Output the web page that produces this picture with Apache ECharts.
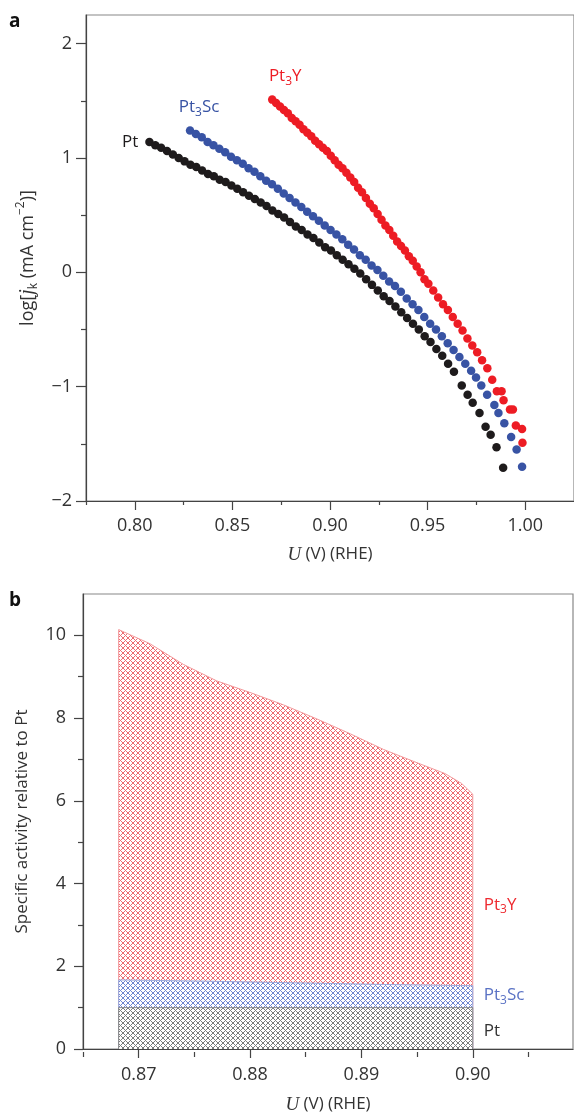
<!DOCTYPE html>
<html><head><meta charset="utf-8">
<script src="https://cdn.jsdelivr.net/npm/echarts@6/dist/echarts.min.js"></script>
<style>html,body{margin:0;padding:0;background:#fff}#c{width:574px;height:1115px}</style>
</head><body><div id="c"></div>
<script>
// ---- Panel a: log(jk) vs U ----
const ptU = [0.8075,0.8105,0.8135,0.8165,0.8195,0.8225,0.8255,0.8285,0.8315,0.8345,0.8375,0.8405,0.8435,0.8465,0.8495,0.8525,0.8555,0.8585,0.8615,0.8645,0.8675,0.8705,0.8735,0.8765,0.8795,0.8825,0.8855,0.8885,0.8915,0.8945,0.8975,0.9005,0.9035,0.9065,0.9095,0.9125,0.9155,0.9185,0.9215,0.9245,0.9275,0.9305,0.9335,0.9365,0.9395,0.9425,0.9455,0.9485,0.9515,0.9545,0.9575,0.9605,0.9635,0.9675,0.9705,0.9731,0.9766,0.9797,0.9823,0.9853,0.9887];
const ptLogJ = [1.14,1.11,1.09,1.06,1.03,1.00,0.97,0.94,0.92,0.89,0.86,0.84,0.81,0.79,0.76,0.73,0.70,0.67,0.64,0.61,0.58,0.54,0.51,0.48,0.44,0.40,0.37,0.33,0.30,0.26,0.22,0.19,0.15,0.11,0.07,0.03,-0.01,-0.06,-0.11,-0.16,-0.21,-0.25,-0.30,-0.35,-0.40,-0.45,-0.50,-0.56,-0.61,-0.67,-0.73,-0.80,-0.87,-0.99,-1.07,-1.14,-1.23,-1.35,-1.42,-1.53,-1.71];
const scU = [0.8283,0.8313,0.8343,0.8373,0.8403,0.8433,0.8463,0.8493,0.8523,0.8553,0.8583,0.8613,0.8643,0.8673,0.8703,0.8733,0.8763,0.8793,0.8823,0.8853,0.8883,0.8913,0.8943,0.8973,0.9003,0.9033,0.9063,0.9093,0.9123,0.9153,0.9183,0.9213,0.9243,0.9273,0.9303,0.9333,0.9363,0.9393,0.9423,0.9453,0.9483,0.9513,0.9543,0.9573,0.9603,0.9633,0.9663,0.9693,0.9723,0.9748,0.9775,0.9805,0.9842,0.9863,0.9893,0.9928,0.9956,0.9984];
const scLogJ = [1.24,1.21,1.18,1.14,1.11,1.08,1.05,1.01,0.98,0.95,0.91,0.88,0.84,0.80,0.77,0.73,0.69,0.65,0.61,0.57,0.53,0.49,0.45,0.41,0.37,0.33,0.29,0.24,0.20,0.15,0.11,0.06,0.02,-0.03,-0.08,-0.12,-0.17,-0.23,-0.28,-0.33,-0.39,-0.45,-0.50,-0.56,-0.62,-0.68,-0.74,-0.80,-0.86,-0.92,-0.99,-1.07,-1.16,-1.23,-1.32,-1.44,-1.55,-1.70];
const yU = [0.8704,0.8724,0.8744,0.8764,0.8784,0.8804,0.8824,0.8844,0.8864,0.8884,0.8904,0.8924,0.8944,0.8964,0.8984,0.9004,0.9024,0.9044,0.9064,0.9084,0.9104,0.9124,0.9144,0.9164,0.9184,0.9204,0.9224,0.9244,0.9264,0.9284,0.9304,0.9324,0.9344,0.9364,0.9384,0.9404,0.9424,0.9444,0.9464,0.9484,0.9504,0.9529,0.9554,0.9579,0.9604,0.9629,0.9654,0.9679,0.9704,0.9729,0.9754,0.9779,0.9806,0.9831,0.9855,0.9879,0.9889,0.9922,0.9937,0.9952,0.9984,0.9986];
const yLogJ = [1.51,1.48,1.45,1.42,1.39,1.35,1.32,1.29,1.25,1.22,1.19,1.15,1.12,1.09,1.06,1.02,0.98,0.94,0.91,0.87,0.83,0.79,0.74,0.70,0.65,0.60,0.56,0.51,0.46,0.41,0.37,0.32,0.27,0.23,0.19,0.14,0.10,0.05,0.00,-0.06,-0.10,-0.16,-0.22,-0.28,-0.33,-0.39,-0.45,-0.51,-0.58,-0.64,-0.70,-0.77,-0.84,-0.94,-1.04,-1.04,-1.12,-1.20,-1.20,-1.34,-1.37,-1.49];
const aXTicks = [0.80,0.85,0.90,0.95,1.00];
const aXMinor = [0.775,0.825,0.875,0.925,0.975];
const aYTicks = [-2,-1,0,1,2];
const aYMinor = [-1.5,-0.5,0.5,1.5];

// ---- Panel b: specific activity relative to Pt ----
const actYU = [0.8682,0.8710,0.8740,0.8770,0.8800,0.8830,0.8860,0.8890,0.8920,0.8950,0.8975,0.8990,0.9000];
const actY = [10.14,9.80,9.30,8.90,8.62,8.32,7.98,7.62,7.24,6.92,6.66,6.42,6.16];
const actScU = [0.8682,0.8760,0.8840,0.8920,0.9000];
const actSc = [1.67,1.64,1.60,1.56,1.53];
const actPtU = [0.8682,0.9000];
const actPt = [1.0,1.0];
const bXTicks = [0.87,0.88,0.89,0.90];
const bXMinor = [0.865,0.875,0.885,0.895,0.905];
const bYTicks = [0,2,4,6,8,10];
const bYMinor = [1,3,5,7,9];

const FONT = 'Open Sans';
const TXT = '#333';
const RED = '#ed1c24', BLUE = '#3853a4', BLACK = '#1e1b1c';

function pairs(xs, ys){ return xs.map((x,i)=>[x, ys[i]]); }
function closedArea(xs, ys){
  const d = [[xs[0],0]].concat(pairs(xs,ys));
  d.push([xs[xs.length-1],0]);
  return d;
}
function hatch(color, p){
  const c = document.createElement('canvas'); c.width = p; c.height = p;
  const g = c.getContext('2d'); g.fillStyle = '#fff'; g.fillRect(0,0,p,p);
  g.fillStyle = color;
  for (let x=0;x<p;x++) for (let y=0;y<p;y++) if ((x+y)%p===0 || (x-y+p)%p===0) g.fillRect(x,y,1,1);
  return {image:c, repeat:'repeat'};
}
const subRich = (col)=>({
  n:{fontSize:17,color:col,fontFamily:FONT,lineHeight:22},
  s:{fontSize:12,color:col,fontFamily:FONT,verticalAlign:'bottom'}
});
function firstLabel(xs, ys, label){
  const d = pairs(xs, ys).map(v=>({value:v}));
  d[0].label = label;
  return d;
}
const minus = v => v < 0 ? '\u2212' + Math.abs(v) : String(v);

const mainAxisBase = {
  type:'value',
  axisLine:{show:true,onZero:false,lineStyle:{color:'#444',width:1.2}},
  splitLine:{show:false},
  axisLabel:{color:TXT,fontSize:18,fontFamily:FONT},
};
const minorAxis = (extra) => Object.assign({
  type:'value',
  axisLine:{show:false},
  splitLine:{show:false},
  axisLabel:{show:false}
}, extra);

const chart = echarts.init(document.getElementById('c'), null, {renderer:'canvas'});
chart.setOption({
  animation:false,
  backgroundColor:'#fff',
  grid:[
    {left:86, top:15, width:488, height:486, show:true, borderColor:'#888', borderWidth:1.2},
    {left:83, top:594, width:490, height:458, show:true, borderColor:'#888', borderWidth:1.2}
  ],
  xAxis:[
    Object.assign({}, mainAxisBase, {gridIndex:0, position:'bottom', min:0.775, max:1.025,
      axisTick:{show:true,length:9,customValues:aXTicks,lineStyle:{color:'#444',width:1.2}},
      axisLabel:{color:TXT,fontSize:18,fontFamily:FONT,margin:16,customValues:aXTicks,formatter:v=>v.toFixed(2)},
      name:'{i|U}{t| (V) (RHE)}', nameLocation:'middle', nameGap:44,
      nameTextStyle:{rich:{i:{fontFamily:'Liberation Serif',fontStyle:'italic',fontSize:19,color:TXT},t:{fontFamily:FONT,fontSize:17,color:TXT}}}
    }),
    minorAxis({gridIndex:0, position:'top', offset:-486, min:0.775, max:1.025,
      axisTick:{show:true,inside:true,length:4,customValues:aXMinor,lineStyle:{color:'#444',width:1.2}}}),
    Object.assign({}, mainAxisBase, {gridIndex:1, position:'bottom', min:0.865, max:0.909,
      axisTick:{show:true,length:9,customValues:bXTicks,lineStyle:{color:'#444',width:1.2}},
      axisLabel:{color:TXT,fontSize:18,fontFamily:FONT,margin:17,customValues:bXTicks,formatter:v=>v.toFixed(2)},
      name:'{i|U}{t| (V) (RHE)}', nameLocation:'middle', nameGap:46,
      nameTextStyle:{rich:{i:{fontFamily:'Liberation Serif',fontStyle:'italic',fontSize:19,color:TXT},t:{fontFamily:FONT,fontSize:17,color:TXT}}}
    }),
    minorAxis({gridIndex:1, position:'top', offset:-458, min:0.865, max:0.909,
      axisTick:{show:true,inside:true,length:5,customValues:bXMinor,lineStyle:{color:'#444',width:1.2}}})
  ],
  yAxis:[
    Object.assign({}, mainAxisBase, {gridIndex:0, position:'left', min:-2, max:2.25,
      axisTick:{show:true,length:10,customValues:aYTicks,lineStyle:{color:'#444',width:1.2}},
      axisLabel:{color:TXT,fontSize:18,fontFamily:FONT,margin:14,customValues:aYTicks,formatter:minus},
      name:'{t|log[}{i|j}{s|k}{t| (mA cm}{p|\u22122}{t|)]}', nameLocation:'middle', nameGap:46,
      nameTextStyle:{rich:{
        t:{fontFamily:FONT,fontSize:18,color:TXT,lineHeight:25},
        i:{fontFamily:'Liberation Serif',fontStyle:'italic',fontSize:20,color:TXT},
        s:{fontFamily:FONT,fontSize:12,color:TXT,verticalAlign:'bottom'},
        p:{fontFamily:FONT,fontSize:12,color:TXT,verticalAlign:'top'}
      }}
    }),
    minorAxis({gridIndex:0, position:'right', offset:-488, min:-2, max:2.25,
      axisTick:{show:true,inside:true,length:5,customValues:aYMinor,lineStyle:{color:'#444',width:1.2}}}),
    Object.assign({}, mainAxisBase, {gridIndex:1, position:'left', min:0, max:11,
      axisTick:{show:true,length:9,customValues:bYTicks,lineStyle:{color:'#444',width:1.2}},
      axisLabel:{color:TXT,fontSize:18,fontFamily:FONT,margin:17,customValues:bYTicks},
      name:'Specific activity relative to Pt', nameLocation:'middle', nameGap:52,
      nameTextStyle:{fontFamily:FONT,fontSize:17,color:TXT}
    }),
    minorAxis({gridIndex:1, position:'right', offset:-490, min:0, max:11,
      axisTick:{show:true,inside:true,length:5,customValues:bYMinor,lineStyle:{color:'#444',width:1.2}}})
  ],
  graphic:[
    {type:'text', left:9, top:12, style:{text:'a', font:'bold 19px "Open Sans"', fill:'#111'}},
    {type:'text', left:9, top:591, style:{text:'b', font:'bold 19px "Open Sans"', fill:'#111'}}
  ],
  series:[
    {type:'scatter', name:'Pt', xAxisIndex:0, yAxisIndex:0, symbolSize:8.5, itemStyle:{color:BLACK, opacity:1},
     data:firstLabel(ptU, ptLogJ, {show:true, position:'left', distance:7, formatter:'Pt', color:BLACK, fontSize:17, fontFamily:FONT})},
    {type:'scatter', name:'Pt3Sc', xAxisIndex:0, yAxisIndex:0, symbolSize:8.5, itemStyle:{color:BLUE, opacity:1},
     data:firstLabel(scU, scLogJ, {show:true, position:'top', distance:8, offset:[9,0], formatter:'{n|Pt}{s|3}{n|Sc}', rich:subRich(BLUE)})},
    {type:'scatter', name:'Pt3Y', xAxisIndex:0, yAxisIndex:0, symbolSize:8.5, itemStyle:{color:RED, opacity:1},
     data:firstLabel(yU, yLogJ, {show:true, position:'top', distance:8, offset:[13,0], formatter:'{n|Pt}{s|3}{n|Y}', rich:subRich(RED)})},

    {type:'line', name:'Pt3Y act', xAxisIndex:2, yAxisIndex:2, symbol:'none', z:2,
     lineStyle:{color:'#f39a9c', width:1}, areaStyle:{color:hatch('#ee6a70',5), opacity:1},
     data:closedArea(actYU, actY),
     markPoint:{symbol:'circle', symbolSize:0, data:[{coord:[0.90,3.48]}],
       label:{show:true, position:'right', distance:11, formatter:'{n|Pt}{s|3}{n|Y}', rich:subRich('#ee2a30')}}},
    {type:'line', name:'Pt3Sc act', xAxisIndex:2, yAxisIndex:2, symbol:'none', z:3,
     lineStyle:{color:'#9aa8dc', width:1}, areaStyle:{color:hatch('#6f84d0',5), opacity:1},
     data:closedArea(actScU, actSc),
     markPoint:{symbol:'circle', symbolSize:0, data:[{coord:[0.90,1.29]}],
       label:{show:true, position:'right', distance:11, formatter:'{n|Pt}{s|3}{n|Sc}', rich:subRich('#5a72c4')}}},
    {type:'line', name:'Pt act', xAxisIndex:2, yAxisIndex:2, symbol:'none', z:4,
     lineStyle:{color:'#8a8a8a', width:1}, areaStyle:{color:hatch('#7a7a7a',5), opacity:1},
     data:closedArea(actPtU, actPt),
     markPoint:{symbol:'circle', symbolSize:0, data:[{coord:[0.90,0.42]}],
       label:{show:true, position:'right', distance:11, formatter:'Pt', color:'#333', fontSize:17, fontFamily:FONT}}}
  ]
});
</script></body></html>
